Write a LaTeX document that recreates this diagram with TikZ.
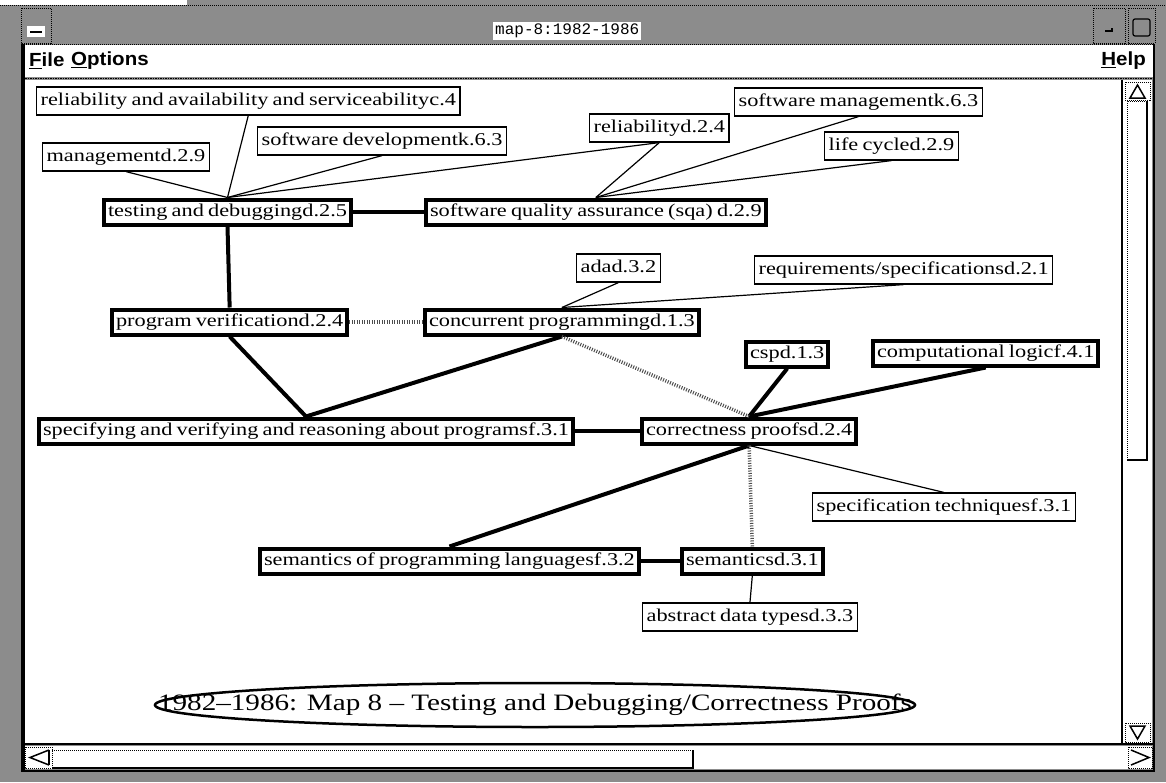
\documentclass[tikz,border=0pt]{standalone}
\usepackage{fontspec}
\setmainfont{Liberation Serif}
\newfontfamily\mapfont{Liberation Serif}[FakeStretch=1.24]
\newfontfamily\menufont{Liberation Sans}[FakeStretch=1.08]
\newfontfamily\ttlfont{Liberation Mono}
\usetikzlibrary{shapes.geometric}
\tikzset{
  boxfont/.style={font={\mapfont\fontsize{18}{20}\selectfont\spaceskip=4.2pt\relax}},
  thinbox/.style={boxfont, draw, fill=white, line width=1.2pt, inner xsep=4pt, inner ysep=0pt,
    minimum height=28pt, text height=12.5pt, text depth=4pt, anchor=west},
  thickbox/.style={boxfont, draw, fill=white, line width=4pt, inner xsep=4pt, inner ysep=0pt,
    minimum height=25pt, text height=12.5pt, text depth=4pt, anchor=west},
  thinlink/.style={line width=1.2pt},
  thicklink/.style={line width=4pt},
  hatchlink/.style={line width=3.5pt, black!70, dash pattern=on 1pt off 1.5pt},
  stipple/.style={fill=black!45},
  dotline/.style={densely dotted, line width=1pt},
  menutext/.style={font=\menufont\bfseries\fontsize{19}{20}\selectfont, inner sep=0pt, anchor=west}
}
\begin{document}
\begin{tikzpicture}[x=1pt, y=-1pt]
\useasboundingbox (0,0) rectangle (1166,782);
% ---------- window frame ----------
\fill[stipple] (0,0) rectangle (1166,782);
\fill[white] (0,0) rectangle (187,5);
\draw[dotline] (0,5) -- (1166,5);
% title bar buttons
\draw[dotline] (21,8) rectangle (51,43);
\fill[white] (27,26) rectangle (45,37);
\draw[line width=1.2pt] (30,32) -- (42,32);
\draw[dotline] (1093,8) rectangle (1125,43);
\draw[line width=1.2pt] (1105,31) -- (1112,31) -- (1112,28);
\draw[dotline] (1128,8) rectangle (1155,43);
\draw[line width=1.2pt, rounded corners=2pt] (1133,19) rectangle (1150,36);
\node[fill=white, inner xsep=2pt, inner ysep=2pt, font=\ttlfont\fontsize{16}{16}\selectfont, anchor=west] (wintitle) at (493,31) {map-8:1982-1986};
% menu bar
\fill[white] (25,45) rectangle (1153,77);
\draw[dotline] (22,44) -- (1154,44);
\node[menutext] (mfile) at (29,61) {\underline{F}ile};
\node[menutext] (mopt) at (71,61) {\underline{O}ptions};
\node[menutext, anchor=east] (mhelp) at (1146,61) {\underline{H}elp};
\draw[densely dotted, line width=1.5pt] (25,78.5) -- (1153,78.5);
% canvas
\fill[white] (25,80) rectangle (1121,743);
\fill[black] (21,44) rectangle (25,771);
% vertical scrollbar
\fill[white] (1123,80) rectangle (1152,743);
\draw[line width=2pt] (1122,80) -- (1122,744);
\draw[dotline] (1125,82) rectangle (1150,100);
\draw[line width=1.5pt] (1130,98) -- (1137.5,85) -- (1145,98) -- cycle;
\draw[dotline] (1127,460) -- (1127,101) -- (1147,101);
\draw[line width=2pt] (1147,101) -- (1147,460) -- (1127,460);
\draw[dotline] (1125,723) rectangle (1150,742);
\draw[line width=1.5pt] (1130,726) -- (1145,726) -- (1137.5,739) -- cycle;
% horizontal scrollbar
\draw[line width=2.5pt] (25,744) -- (1153,744);
\fill[white] (25,745.5) rectangle (1152,769);
\draw[dotline] (25,747) rectangle (52,768);
\draw[line width=1.5pt] (49,750) -- (30,757.5) -- (49,765);
\draw[line width=1.5pt] (49,750) -- (49,765);
\draw[dotline] (52,768) -- (52,750) -- (693,750);
\draw[line width=2pt] (693,750) -- (693,768) -- (52,768);
\draw[dotline] (1128,747) rectangle (1152,768);
\draw[line width=1.5pt] (1131,750) -- (1149,757.5) -- (1131,765);
% outer black lines
\draw[line width=2.5pt] (1154,44) -- (1154,771) -- (21,771);

% ---------- diagram nodes ----------
\node[thinbox] (relav) at (36,101) {reliability and availability and serviceabilityc.4};
\node[thinbox] (mgmt) at (42,157) {managementd.2.9};
\node[thinbox] (swdev) at (257,141) {software developmentk.6.3};
\node[thinbox] (reld) at (589,128) {reliabilityd.2.4};
\node[thinbox] (swmgmt) at (734,102) {software managementk.6.3};
\node[thinbox] (lifec) at (824,146) {life cycled.2.9};
\node[thickbox] (testing) at (102,212) {testing and debuggingd.2.5};
\node[thickbox] (sqa) at (424,212) {software quality assurance (sqa) d.2.9};
\node[thinbox] (adad) at (576,268) {adad.3.2};
\node[thinbox] (reqspec) at (754,270) {requirements/specificationsd.2.1};
\node[thickbox] (progver) at (110,322) {program verificationd.2.4};
\node[thickbox] (concur) at (423,322) {concurrent programmingd.1.3};
\node[thickbox] (cspd) at (744,354) {cspd.1.3};
\node[thickbox] (complog) at (871,353) {computational logicf.4.1};
\node[thickbox] (specver) at (37,431) {specifying and verifying and reasoning about programsf.3.1};
\node[thickbox] (correct) at (640,431) {correctness proofsd.2.4};
\node[thinbox] (spectech) at (812,507) {specification techniquesf.3.1};
\node[thickbox] (sempl) at (258,561) {semantics of programming languagesf.3.2};
\node[thickbox] (sem) at (680,561) {semanticsd.3.1};
\node[thinbox] (adt) at (642,617) {abstract data typesd.3.3};
\node[ellipse, draw, line width=2.5pt, minimum width=760pt, minimum height=44pt, inner sep=0pt,
  font=\mapfont\fontsize{23.5}{28}\selectfont] (maptitle) at (535,705)
  {\makebox[0pt]{1982–1986: Map 8 – Testing and Debugging/Correctness Proofs}};

% ---------- connectors ----------
\draw[thinlink] (mgmt.south) -- (testing.north);
\draw[thinlink] (relav.south) -- (testing.north);
\draw[thinlink] (swdev.south) -- (testing.north);
\draw[thinlink] (reld.south) -- (testing.north);
\draw[thinlink] (reld.south) -- (sqa.north);
\draw[thinlink] (swmgmt.south) -- (sqa.north);
\draw[thinlink] (lifec.south) -- (sqa.north);
\draw[thinlink] (adad.south) -- (concur.north);
\draw[thinlink] (reqspec.south) -- (concur.north);
\draw[thinlink] (correct.south) -- (spectech.north);
\draw[thinlink] (sem.south) -- (adt.north);

\draw[thicklink] (testing.east) -- (sqa.west);
\draw[thicklink] (testing.south) -- (progver.north);
\draw[thicklink] (progver.south) -- (specver.north);
\draw[thicklink] (concur.south) -- (specver.north);
\draw[thicklink] (specver.east) -- (correct.west);
\draw[thicklink] (cspd.south) -- (correct.north);
\draw[thicklink] (complog.south) -- (correct.north);
\draw[thicklink] (correct.south) -- (sempl.north);
\draw[thicklink] (sempl.east) -- (sem.west);

\draw[hatchlink] (progver.east) -- (concur.west);
\draw[hatchlink] (concur.south) -- (correct.north);
\draw[hatchlink] (correct.south) -- (sem.north);
\end{tikzpicture}
\end{document}
